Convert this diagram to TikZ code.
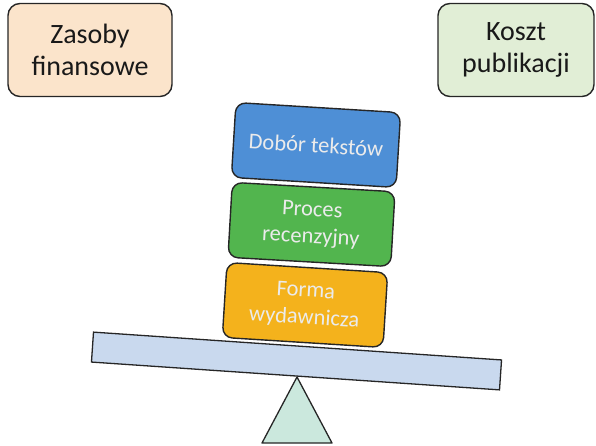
\documentclass[tikz,border=0pt]{standalone}
\usepackage{fontspec}
\setmainfont{Carlito}
\definecolor{peach}{HTML}{FBE4CB}
\definecolor{pale}{HTML}{E1EED6}
\definecolor{bblue}{HTML}{4E8FD6}
\definecolor{bgreen}{HTML}{52B54E}
\definecolor{borange}{HTML}{F4B21C}
\definecolor{beamc}{HTML}{C9D9EE}
\definecolor{trif}{HTML}{CBE8DD}
\begin{document}
\begin{tikzpicture}[x=1pt,y=-1pt,
  outer/.style={draw=black!85, line width=1.4pt, rounded corners=12pt, minimum width=164pt, minimum height=93pt, align=center, font=\fontsize{28}{32}\selectfont, text=black!90},
  stack/.style={draw=black!85, line width=1.4pt, rounded corners=10pt, minimum width=163pt, minimum height=75pt, align=center, font=\fontsize{22.5}{27}\selectfont, text=white!92!black, inner sep=0pt},
  support/.style={draw=black!85, line width=1.3pt}]
\useasboundingbox (0,0) rectangle (596,446);
\node[outer, fill=peach] (zas) at (90,50) {Zasoby\\finansowe};
\node[outer, fill=pale, minimum width=156pt] (kos) at (516,50) {Koszt\\publikacji};
\node[support, fill=beamc, minimum width=409pt, minimum height=30pt, inner sep=0pt, rotate=-3.9] (beam) at (296.5,361) {};
\node[stack, fill=borange, rotate=-3.6, minimum width=161pt] (form) at (305,305) {Forma\\wydawnicza};
\node[stack, fill=bgreen, rotate=-3.3] (proc) at (311.5,224.5) {Proces\\recenzyjny};
\node[stack, fill=bblue, rotate=-3.5, minimum width=165pt] (dob) at (316,145) {Dobór tekstów};
\coordinate (apex) at (297,377);
\coordinate (bl) at (262,443);
\coordinate (br) at (332,443);
\draw[support, fill=trif, line join=round] (apex) -- (bl) -- (br) -- cycle;
\end{tikzpicture}
\end{document}
